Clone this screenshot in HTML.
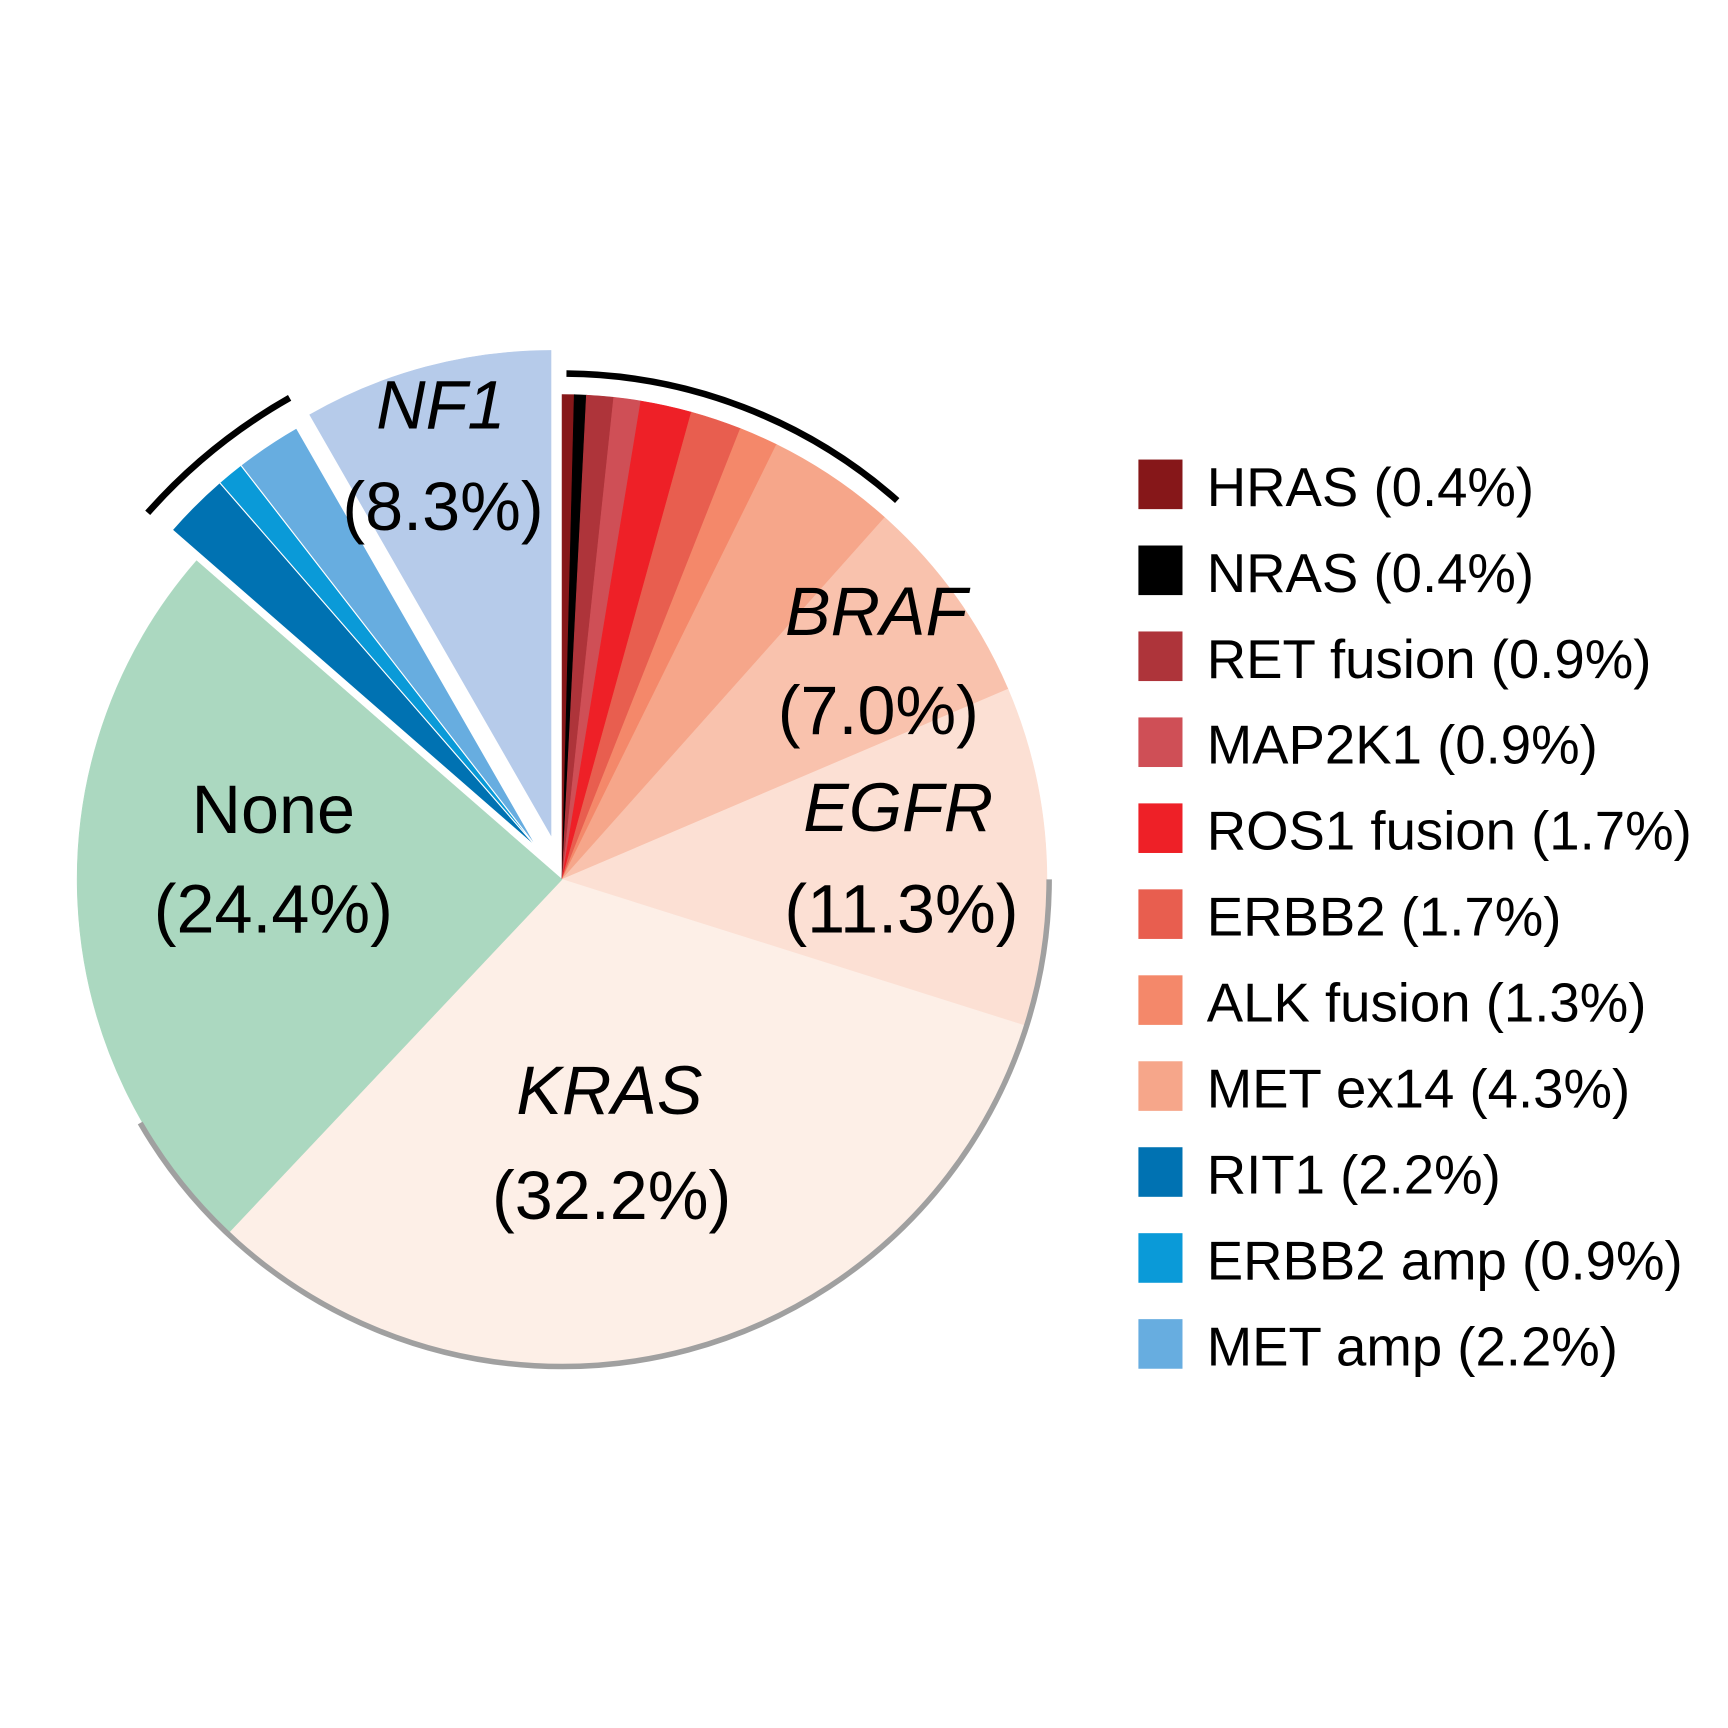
<!DOCTYPE html>
<html><head><meta charset="utf-8">
<style>html,body{margin:0;padding:0;background:#fff}svg{display:block}
text{font-family:"Liberation Sans",Arial,sans-serif;fill:#000}</style></head>
<body>
<svg id="s" width="1728" height="1728" viewBox="0 0 1568 1568" xmlns="http://www.w3.org/2000/svg">
<g id="pie"></g>
<g font-size="62" text-anchor="middle">
<text x="400" y="389" font-style="italic">NF1</text>
<text x="402" y="481">(8.3%)</text>
<text x="795" y="576" font-style="italic">BRAF</text>
<text x="797" y="666">(7.0%)</text>
<text x="815" y="754" font-style="italic">EGFR</text>
<text x="818" y="846">(11.3%)</text>
<text x="248" y="756">None</text>
<text x="248" y="846">(24.4%)</text>
<text x="553" y="1011" font-style="italic">KRAS</text>
<text x="555" y="1106">(32.2%)</text>
</g>
<g font-size="49.5">
<rect x="1033" y="417" width="40" height="45" fill="#861719"/><text x="1095" y="459">HRAS (0.4%)</text>
<rect x="1033" y="495" width="40" height="45" fill="#000"/><text x="1095" y="537">NRAS (0.4%)</text>
<rect x="1033" y="573" width="40" height="45" fill="#ae343a"/><text x="1095" y="615">RET fusion (0.9%)</text>
<rect x="1033" y="651" width="40" height="45" fill="#cf4f56"/><text x="1095" y="693">MAP2K1 (0.9%)</text>
<rect x="1033" y="729" width="40" height="45" fill="#ee2027"/><text x="1095" y="771">ROS1 fusion (1.7%)</text>
<rect x="1033" y="807" width="40" height="45" fill="#e85e4f"/><text x="1095" y="849">ERBB2 (1.7%)</text>
<rect x="1033" y="885" width="40" height="45" fill="#f4886a"/><text x="1095" y="927">ALK fusion (1.3%)</text>
<rect x="1033" y="963" width="40" height="45" fill="#f6a68a"/><text x="1095" y="1005">MET ex14 (4.3%)</text>
<rect x="1033" y="1041" width="40" height="45" fill="#0072b2"/><text x="1095" y="1083">RIT1 (2.2%)</text>
<rect x="1033" y="1119" width="40" height="45" fill="#0a9ad8"/><text x="1095" y="1161">ERBB2 amp (0.9%)</text>
<rect x="1033" y="1197" width="40" height="45" fill="#67ade0"/><text x="1095" y="1239">MET amp (2.2%)</text>
</g>
</svg>
<script>
(function(){
var cx=510,cy=798,R=440;
var d=[[0.4,'#861719'],[0.4,'#000'],[0.9,'#ae343a'],[0.9,'#cf4f56'],[1.7,'#ee2027'],[1.7,'#e85e4f'],[1.3,'#f4886a'],[4.3,'#f6a68a'],[7.0,'#f9c2ad'],[11.3,'#fce0d4'],[32.2,'#fdefe7'],[24.4,'#abd8c0'],[2.2,'#0072b2'],[0.9,'#0a9ad8'],[2.2,'#67ade0'],[8.3,'#b6cbea']];
var tot=100.1;
function pt(x,y,r,a){a=a*Math.PI/180;return [x+r*Math.sin(a),y-r*Math.cos(a)];}
function arc(x,y,r,a0,a1){var p0=pt(x,y,r,a0),p1=pt(x,y,r,a1);return 'M'+p0[0]+' '+p0[1]+' A'+r+' '+r+' 0 '+((a1-a0)>180?1:0)+' 1 '+p1[0]+' '+p1[1];}
var g=document.getElementById('pie'),h='',a=0;
for(var i=0;i<d.length;i++){
 var a1=a+d[i][0]/tot*360,ox=0,oy=0,st='';
 if(i>=12&&i<=14){ox=-22;oy=-28;st=' stroke="#fff" stroke-width="1"';}
 if(i==15){ox=-10;oy=-40;}
 var x=cx+ox,y=cy+oy,p0=pt(x,y,R,a),p1=pt(x,y,R,a1);
 h+='<path d="M'+x+' '+y+' L'+p0[0]+' '+p0[1]+' A'+R+' '+R+' 0 '+((a1-a)>180?1:0)+' 1 '+p1[0]+' '+p1[1]+' Z" fill="'+d[i][1]+'"'+(st||' stroke="'+d[i][1]+'" stroke-width="0.5"')+'/>';
 a=a1;
}
h+='<path d="'+arc(cx,cy,442,90,240)+'" fill="none" stroke="#a0a0a0" stroke-width="5"/>';
h+='<path d="'+arc(cx,cy,459,0.5,41.5)+'" fill="none" stroke="#000" stroke-width="6"/>';
h+='<path d="'+arc(cx,cy,502,311.5,330.5)+'" fill="none" stroke="#000" stroke-width="6"/>';
g.innerHTML=h;
})();
</script>
</body></html>
